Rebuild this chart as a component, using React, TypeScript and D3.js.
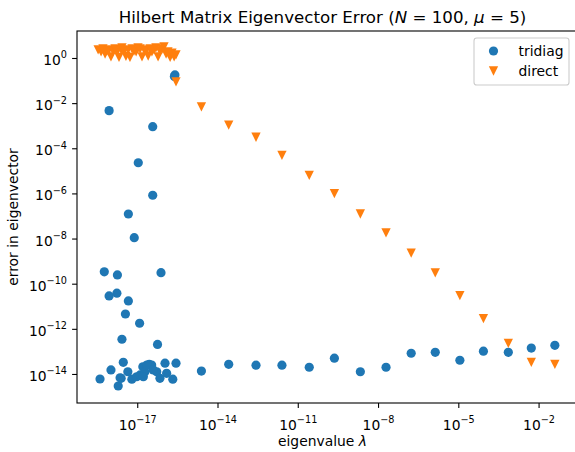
import React from "react";
import * as d3 from "d3";

// log10 of eigenvalue and error
const tridiagLogLambda = [
  -18.07, -16.44, -16.98, -16.44, -17.35, -17.13, -18.25, -17.76, -16.13, -18.07, -17.78, -17.35, -17.46, -16.93, -17.59, -16.26, -15.61, -15.63,
  -18.41, -18.0, -17.54, -17.37, -17.62, -17.73, -17.22, -17.04, -16.91, -16.81, -16.73, -16.57, -16.48, -16.29, -16.17, -15.98, -15.92, -15.69, -15.57, -16.66, -16.42, -16.79, -17.66,
  -14.62, -13.6, -12.58, -11.61, -10.59, -9.65, -8.68, -7.72, -6.78, -5.88, -4.96, -4.08, -3.15, -2.29, -1.41,
];
const tridiagLogErr = [
  -2.31, -3.02, -4.62, -6.06, -6.89, -7.94, -9.45, -9.59, -9.49, -10.52, -10.4, -10.74, -11.32, -11.73, -12.44, -12.67, -0.73, -0.8,
  -14.2, -13.8, -13.46, -13.88, -14.17, -14.51, -14.21, -14.1, -14.02, -13.66, -13.88, -13.55, -13.58, -13.88, -14.17, -13.5, -13.95, -14.21, -13.5, -13.58, -13.8, -14.1, -14.15,
  -13.85, -13.55, -13.59, -13.59, -13.68, -13.28, -13.88, -13.68, -13.06, -13.02, -13.37, -12.97, -13.02, -12.83, -12.71,
];
const directLogLambda = [
  -18.48, -18.37, -18.3, -18.22, -18.15, -18.07, -18.0, -17.92, -17.85, -17.77, -17.7, -17.62, -17.59, -17.51, -17.44, -17.36, -17.29, -17.21, -17.14, -17.06,
  -16.99, -16.91, -16.84, -16.76, -16.69, -16.61, -16.54, -16.47, -16.39, -16.32, -16.24, -16.17, -16.09, -16.02, -15.94, -15.87, -15.79, -15.72, -15.64, -15.57,
  -15.57,
  -14.62, -13.6, -12.58, -11.61, -10.59, -9.65, -8.68, -7.72, -6.78, -5.88, -4.96, -4.08, -3.15, -2.29, -1.41,
];
const directLogErr = [
  0.38, 0.29, 0.42, 0.2, 0.33, 0.38, 0.07, 0.33, 0.42, 0.29, 0.05, 0.38, 0.47, 0.33, 0.09, 0.38, 0.05, 0.42, 0.33, 0.29,
  0.47, 0.42, 0.07, 0.38, 0.33, 0.11, 0.42, 0.29, 0.38, 0.47, 0.07, 0.33, 0.42, 0.51, 0.2, 0.29, 0.05, 0.24, 0.07, 0.16,
  -1.04,
  -2.14, -2.95, -3.49, -4.29, -5.18, -5.99, -6.89, -7.73, -8.62, -9.5, -10.51, -11.53, -12.62, -13.46, -13.55,
];
const xTickExps = [-17, -14, -11, -8, -5, -2];
const yTickExps = [0, -2, -4, -6, -8, -10, -12, -14];
const seriesNames = ["tridiag", "direct"];

const W = 575;
const H = 452;
const L = 77, R = 576, T = 31, B = 403;
const BLUE = "#1f77b4";
const ORANGE = "#ff7f0e";
const FONT = "DejaVu Sans";

const x = d3.scaleLog().domain([Math.pow(10, -19.27), Math.pow(10, -0.62)]).range([L, R]);
const y = d3.scaleLog().domain([Math.pow(10, -15.264), Math.pow(10, 1.218)]).range([B, T]);

const tri = (cx: number, cy: number) => {
  const w = 9.3, h = 9.3;
  return `M${cx - w / 2},${cy - h / 2}L${cx + w / 2},${cy - h / 2}L${cx},${cy + h / 2}Z`;
};

export default function App() {
  const tridiag = tridiagLogLambda.map((v, i) => [Math.pow(10, v), Math.pow(10, tridiagLogErr[i])]);
  const direct = directLogLambda.map((v, i) => [Math.pow(10, v), Math.pow(10, directLogErr[i])]);
  const legL = 474, legT = 38, legW = 95, legH = 47;
  return (
    <svg width={W} height={H} style={{ position: "absolute", left: 0, top: 0 }} fontFamily={FONT}>
      <rect width={W} height={H} fill="#fff" />
      <text x={(L + 568) / 2} y={23} fontSize={16.67} textAnchor="middle" fill="#000">
        Hilbert Matrix Eigenvector Error (<tspan fontStyle="italic">N</tspan> = 100, <tspan fontStyle="italic">μ</tspan> = 5)
      </text>
      <g>
        {tridiag.map((d, i) => (
          <circle key={"t" + i} cx={x(d[0])} cy={y(d[1])} r={4.6} fill={BLUE} />
        ))}
        {direct.map((d, i) => (
          <path key={"d" + i} d={tri(x(d[0]), y(d[1]))} fill={ORANGE} />
        ))}
      </g>
      <rect x={L} y={T} width={R - L} height={B - T} fill="none" stroke="#000" strokeWidth={1.1} />
      {xTickExps.map((e) => {
        const px = x(Math.pow(10, e));
        return (
          <g key={"x" + e}>
            <line x1={px} x2={px} y1={B} y2={B + 4.9} stroke="#000" strokeWidth={1.1} />
            <text x={px} y={429.5} fontSize={13.89} textAnchor="middle" fill="#000">
              10<tspan dy={-6.5} fontSize={9.7}>{"\u2212" + Math.abs(e)}</tspan>
            </text>
          </g>
        );
      })}
      {yTickExps.map((e) => {
        const py = y(Math.pow(10, e));
        return (
          <g key={"y" + e}>
            <line x1={L - 4.9} x2={L} y1={py} y2={py} stroke="#000" strokeWidth={1.1} />
            <text x={67} y={py + 6.5} fontSize={13.89} textAnchor="end" fill="#000">
              10<tspan dy={-6.5} fontSize={9.7}>{e === 0 ? "0" : "\u2212" + Math.abs(e)}</tspan>
            </text>
          </g>
        );
      })}
      <text x={(L + 568) / 2} y={446} fontSize={13.89} textAnchor="middle" fill="#000">
        eigenvalue <tspan fontStyle="italic">λ</tspan>
      </text>
      <text transform={`translate(18,${(T + B) / 2}) rotate(-90)`} fontSize={13.89} textAnchor="middle" fill="#000">
        error in eigenvector
      </text>
      <g>
        <rect x={legL} y={legT} width={legW} height={legH} rx={2.8} fill="#fff" fillOpacity={0.8} stroke="#cccccc" strokeWidth={1.1} />
        <circle cx={legL + 19.5} cy={legT + 13} r={4.6} fill={BLUE} />
        <text x={legL + 44.5} y={legT + 18} fontSize={13.89} fill="#000">{seriesNames[0]}</text>
        <path d={tri(legL + 19.5, legT + 33)} fill={ORANGE} />
        <text x={legL + 44.5} y={legT + 38} fontSize={13.89} fill="#000">{seriesNames[1]}</text>
      </g>
    </svg>
  );
}
